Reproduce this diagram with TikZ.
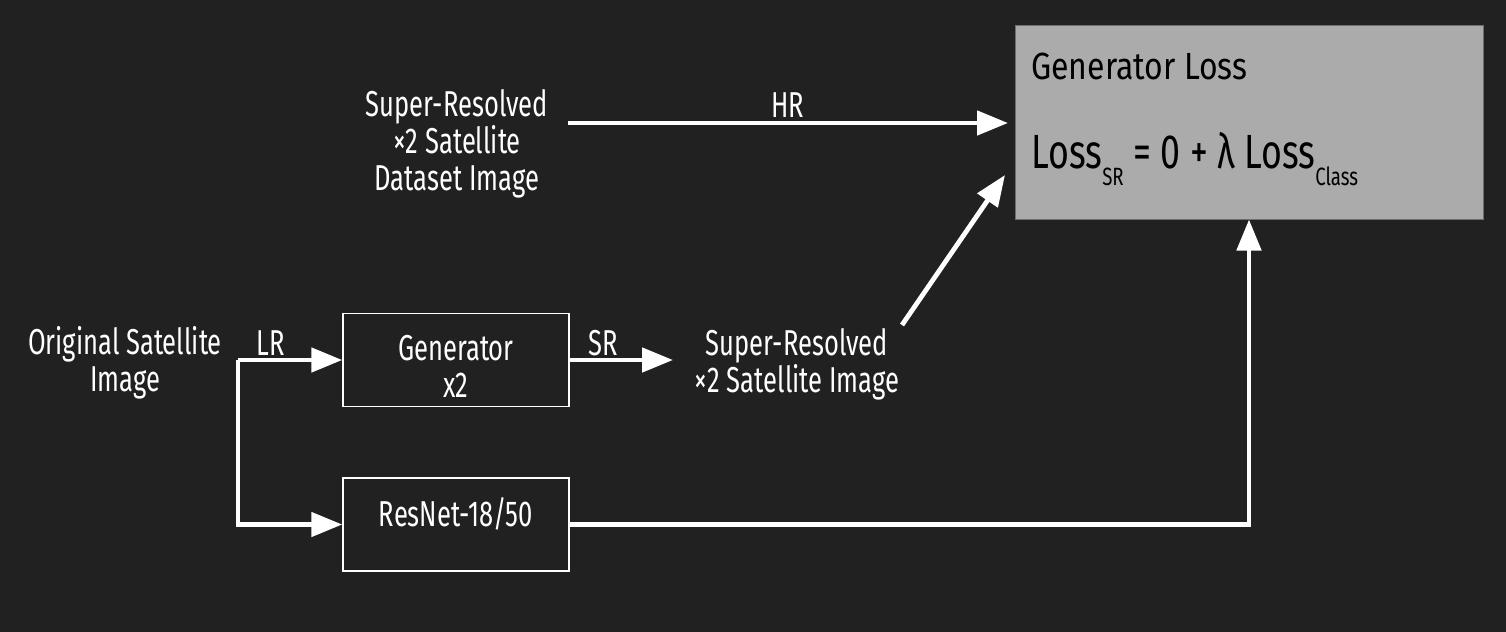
\documentclass[tikz,border=0pt]{standalone}
\usepackage{fontspec}
\setmainfont{Fira Sans}[FakeStretch=0.71]
\usetikzlibrary{arrows.meta}
\definecolor{bg}{HTML}{212121}
\definecolor{lossfill}{HTML}{ABABAB}
\definecolor{lossdraw}{HTML}{6E6E6E}
\begin{document}
\begin{tikzpicture}[x=0.5pt,y=-0.5pt,
  txt/.style={text=white,font=\fontsize{18}{18.5}\selectfont,align=center,inner sep=0pt,anchor=base},
  blk/.style={draw=white,line width=0.75pt,inner sep=0pt,minimum width=113pt,minimum height=46.5pt},
  conn/.style={draw=white,line width=2.4pt,-{Triangle[length=15.5pt,width=12pt]}},
  lossbox/.style={fill=lossfill,draw=lossdraw,line width=0.5pt,inner sep=0pt,minimum width=234pt,minimum height=97pt}]
\fill[bg] (0,0) rectangle (1506,632);
\useasboundingbox (0,0) rectangle (1506,632);

\node[lossbox] (loss) at (1249,122) {};
\node[blk] (gen) at (456,360) {};
\node[blk] (res) at (456,524.5) {};

\node[txt,anchor=base west,align=left,text=black,font=\fontsize{18.9}{19}\selectfont] (losst) at (1031,79) {\scalebox{1.19}[1]{Generator Loss}};
\node[txt,anchor=base west,align=left,text=black,font=\fontsize{24}{24}\selectfont] (lossf) at (1031,168)
  {\scalebox{1.05}[1]{Loss\raisebox{-0.36em}{\fontsize{12.5}{12.5}\selectfont SR} = 0 + λ Loss\raisebox{-0.36em}{\fontsize{12.5}{12.5}\selectfont Class}}};

\node[txt] (orig) at (125,391) {Original Satellite\\Image};
\node[txt] (lr) at (271,355) {LR};
\node[txt] (gent) at (456,397) {Generator\\x2};
\node[txt] (rest) at (456,526) {ResNet-18/50};
\node[txt] (sr) at (603,355) {SR};
\node[txt] (srimg) at (797,392) {Super-Resolved\\×2 Satellite Image};
\node[txt] (hrimg) at (457,190) {Super-Resolved\\×2 Satellite\\Dataset Image};
\node[txt] (hr) at (788,117) {HR};

\coordinate (hrS) at (568,123);
\coordinate (hrE) at (1008,123);
\coordinate (dgS) at (902,325);
\coordinate (dgE) at (1005,175);
\coordinate (lrS) at (238,360);
\coordinate (srE) at (673,360);

\draw[conn] (hrS) -- (hrE);
\draw[conn] (dgS) -- (dgE);
\draw[conn] (lrS) -- (gen.west);
\draw[conn] (lrS) |- (res.west);
\draw[conn] (gen.east) -- (srE);
\draw[conn] (res.east) -| (loss.south);
\end{tikzpicture}
\end{document}
